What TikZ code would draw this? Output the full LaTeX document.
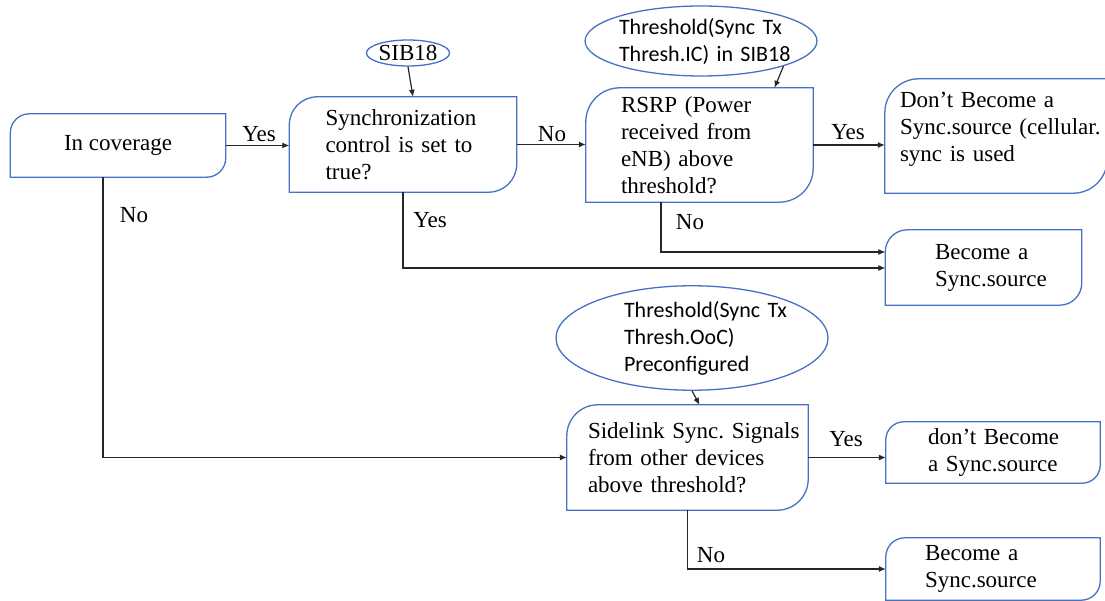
\documentclass[tikz,border=0pt]{standalone}
\usepackage{fontspec}
\setmainfont{Liberation Serif}
\newfontfamily\carlitofont{Carlito}
\usetikzlibrary{arrows.meta,shapes.geometric}
\definecolor{boxblue}{RGB}{68,114,196}
\definecolor{linegray}{RGB}{38,38,38}
\frenchspacing
\tikzset{
  flowbox/.style={draw=none, rectangle, inner sep=0pt, align=left,
    font=\fontsize{23}{27}\selectfont},
  boxline/.style={draw=boxblue, line width=1.3pt},
  ellnode/.style={draw=boxblue, line width=1.3pt, ellipse, inner sep=0pt, align=left,
    font=\carlitofont\fontsize{22}{27}\selectfont},
  conn/.style={draw=linegray, line width=1.2pt, -{Latex[length=7pt,width=6pt]}},
  lbl/.style={inner sep=0pt, font=\fontsize{23}{27}\selectfont}
}
\newcommand\diagbox[2]{%
  \draw[boxline] (#1.south west) -- ([yshift=-#2pt]#1.north west)
    arc[start angle=180,end angle=90,radius=#2pt] -- (#1.north east)
    -- ([yshift=#2pt]#1.south east)
    arc[start angle=0,end angle=-90,radius=#2pt] -- cycle;}
\begin{document}
\begin{tikzpicture}[x=1pt,y=1pt]
\useasboundingbox[fill=white] (0,0) rectangle (1105,-601);

% boxes
\node[flowbox, align=center, minimum width=215pt, minimum height=63pt] (cov) at (118,-145.5) {In coverage};
\node[flowbox, minimum width=227pt, minimum height=95pt, text width=155pt] (sync) at (403,-144.5)
  {\mbox{Synchronization}\\\mbox{control is set to}\\\mbox{true?}};
\node[flowbox, minimum width=227pt, minimum height=114pt, text width=157pt] (rsrp) at (699.5,-145)
  {\mbox{RSRP (Power}\\\mbox{received from}\\\mbox{eNB) above}\\\mbox{threshold?}};
\node[flowbox, minimum width=222pt, minimum height=114pt, text width=192pt] (dont) at (996,-136)
  {\mbox{Don’t Become a}\\\mbox{Sync.source (cellular.}\\\mbox{sync is used}\\[-16pt]\strut};
\node[flowbox, minimum width=196pt, minimum height=75pt, text width=97pt] (bec1) at (983.5,-267.5)
  {\mbox{Become a}\\\mbox{Sync.source}};
\node[flowbox, minimum width=241pt, minimum height=105pt, text width=199pt] (side) at (687.5,-457.5)
  {\mbox{Sidelink Sync. Signals}\\\mbox{from other devices}\\\mbox{above threshold?}};
\node[flowbox, minimum width=214pt, minimum height=61pt, text width=130pt] (dont2) at (993,-452.5)
  {\mbox{don’t Become}\\\mbox{a Sync.source}};
\node[flowbox, minimum width=214pt, minimum height=62pt, text width=136pt] (bec2) at (993,-569)
  {\mbox{Become a}\\\mbox{Sync.source}};

\diagbox{cov}{19}
\diagbox{sync}{28}
\diagbox{rsrp}{34}
\diagbox{dont}{34}
\diagbox{bec1}{22}
\diagbox{side}{31}
\diagbox{dont2}{18}
\diagbox{bec2}{19}

% ellipses
\node[ellnode, minimum width=78pt, minimum height=26pt, font=\fontsize{23}{27}\selectfont] (sib) at (408,-53) {SIB18};
\node[ellnode, minimum width=222pt, minimum height=70pt, text width=164pt] (thIC) at (701,-41)
  {\mbox{Threshold(Sync Tx}\\\mbox{Thresh.IC) in SIB18}};
\node[ellnode, minimum width=272pt, minimum height=102pt, text width=136pt] (thOoC) at (692,-338)
  {\mbox{Threshold(Sync Tx}\\\mbox{Thresh.OoC)}\\\mbox{Preconfigured}};

% connectors
\draw[conn] (cov.east) -- (cov.east -| sync.west);
\draw[conn] (sync.east) -- (sync.east -| rsrp.west);
\draw[conn] (rsrp.east) -- (rsrp.east -| dont.west);
\draw[conn] (sib.south) -- ([xshift=10pt]sync.north);
\draw[conn] (thIC.-17) -- ([xshift=75pt]rsrp.north);
\draw[conn] (thOoC.south) -- ([xshift=12pt]side.north);
\draw[conn] ([xshift=-38.5pt]rsrp.south) |- ([yshift=15.5pt]bec1.west);
\draw[conn] (sync.south) |- ([yshift=-0.5pt]bec1.west);
\draw[conn] ([xshift=-15pt]cov.south) |- (side.west);
\draw[conn] (side.east) -- (side.east -| dont2.west);
\draw[conn] (side.south) |- (bec2.west);

% labels
\node[lbl] (l1) at (259,-134.5) {Yes};
\node[lbl] (l2) at (552,-134) {No};
\node[lbl] (l3) at (848,-132.5) {Yes};
\node[lbl] (l4) at (690,-222) {No};
\node[lbl] (l5) at (430,-220.5) {Yes};
\node[lbl] (l6) at (134,-215) {No};
\node[lbl] (l7) at (846,-439.5) {Yes};
\node[lbl] (l8) at (711,-555.5) {No};
\end{tikzpicture}
\end{document}
